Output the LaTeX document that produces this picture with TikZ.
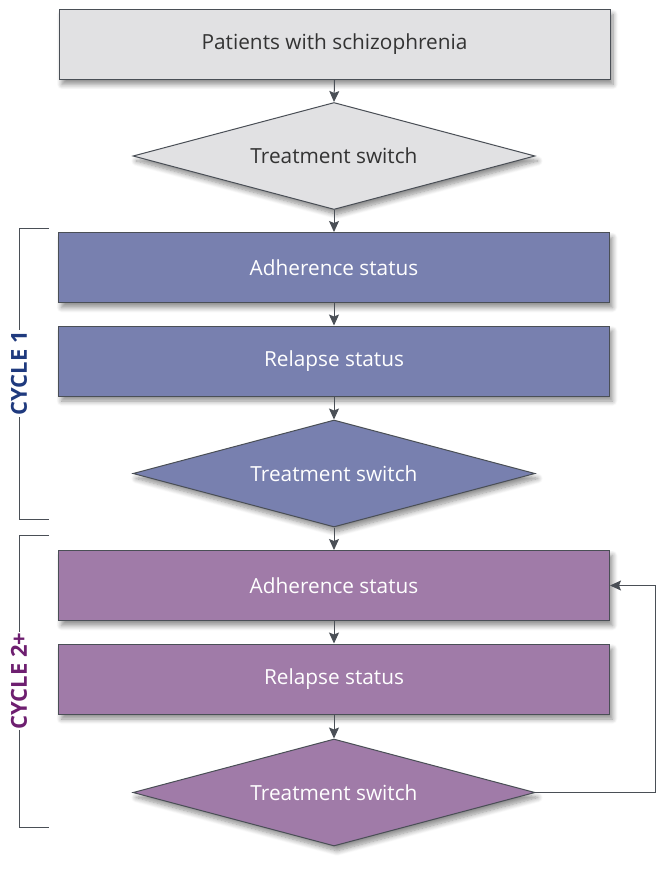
\documentclass[tikz,border=0pt]{standalone}
\usepackage{fontspec}
\setmainfont{Open Sans}
\usetikzlibrary{shapes.geometric,shadows.blur,arrows.meta}
\definecolor{edgec}{HTML}{4A4F56}
\definecolor{grayfill}{HTML}{E1E1E3}
\definecolor{bluefill}{HTML}{7880AF}
\definecolor{purpfill}{HTML}{A07BA8}
\definecolor{cycone}{HTML}{1F3A7E}
\definecolor{cyctwo}{HTML}{6E1F70}
\definecolor{txtc}{HTML}{333333}
\tikzset{
  sh/.style={blur shadow={shadow xshift=3pt,shadow yshift=-5pt,shadow blur steps=8,shadow blur radius=5pt,shadow opacity=45}},
  boxst/.style={rectangle,draw=edgec,line width=1pt,minimum width=551pt,minimum height=70pt,inner sep=0pt,font=\fontsize{20.8}{24}\selectfont,sh},
  diast/.style={diamond,draw=edgec,line width=1pt,inner sep=0pt,minimum width=402pt,minimum height=107pt,aspect=3.75,font=\fontsize{20.8}{24}\selectfont,sh},
  conn/.style={draw=edgec,line width=1pt,-{Stealth[length=11pt,width=10pt,inset=2pt]}},
  brk/.style={draw=edgec,line width=1pt},
  cyc/.style={rotate=90,font=\bfseries\fontsize{22}{26}\selectfont,fill=white,inner sep=1pt}
}
\begin{document}
\begin{tikzpicture}[x=1pt,y=-1pt]
\useasboundingbox (0,0) rectangle (663,869);
\node[boxst,fill=grayfill,text=txtc] (p) at (334.5,44.5) {Patients with schizophrenia};
\node[diast,fill=grayfill,text=txtc] (d0) at (334,156) {Treatment switch};
\node[boxst,fill=bluefill,text=white] (a1) at (334,267.5) {Adherence status};
\node[boxst,fill=bluefill,text=white] (r1) at (334,361) {Relapse status};
\node[diast,fill=bluefill,text=white] (d1) at (334,473.5) {Treatment switch};
\node[boxst,fill=purpfill,text=white] (a2) at (334,585.5) {Adherence status};
\node[boxst,fill=purpfill,text=white] (r2) at (334,679) {Relapse status};
\node[diast,fill=purpfill,text=white] (d2) at (334,792.5) {Treatment switch};
\draw[conn] (p.south) -- (d0.north);
\draw[conn] (d0.south) -- (a1.north);
\draw[conn] (a1.south) -- (r1.north);
\draw[conn] (r1.south) -- (d1.north);
\draw[conn] (d1.south) -- (a2.north);
\draw[conn] (a2.south) -- (r2.north);
\draw[conn] (r2.south) -- (d2.north);
\coordinate (fb1) at (655,792.5);
\coordinate (fb2) at (655,585.5);
\draw[conn] (d2.east) -- (fb1) -- (fb2) -- (a2.east);
% brackets
\coordinate (b1t) at (49,228);
\coordinate (b1tl) at (19,228);
\coordinate (b1bl) at (19,519);
\coordinate (b1b) at (49,519);
\draw[brk] (b1t) -- (b1tl) -- (b1bl) -- (b1b);
\node[cyc,text=cycone] (c1) at (19,373.5) {CYCLE 1};
\coordinate (b2t) at (49,535);
\coordinate (b2tl) at (19,535);
\coordinate (b2bl) at (19,827);
\coordinate (b2b) at (49,827);
\draw[brk] (b2t) -- (b2tl) -- (b2bl) -- (b2b);
\node[cyc,text=cyctwo] (c2) at (19,681) {CYCLE 2+};
\end{tikzpicture}
\end{document}
